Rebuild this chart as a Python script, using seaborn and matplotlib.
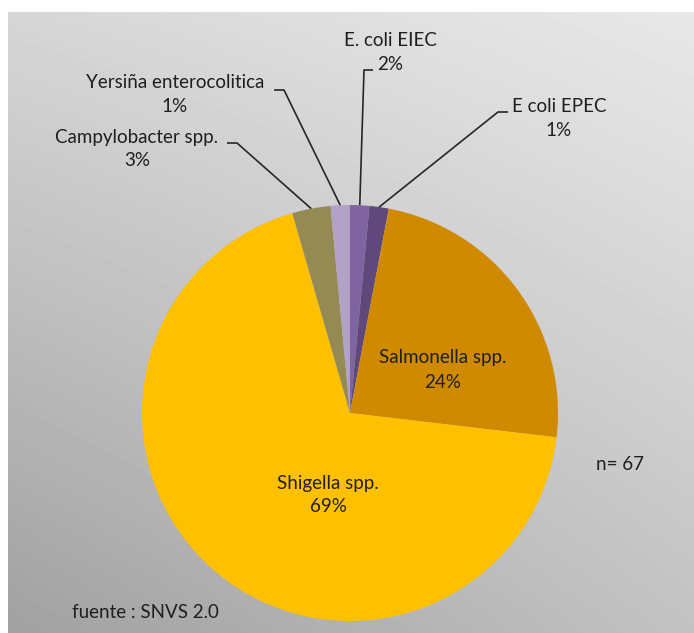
import numpy as np
import matplotlib
matplotlib.use('Agg')
import matplotlib.pyplot as plt
import seaborn as sns

# data (n = 67 isolates)
categories = ['E. coli EIEC', 'E coli EPEC', 'Salmonella spp.', 'Shigella spp.',
              'Campylobacter spp.', 'Yersiña enterocolitica']
counts = [1, 1, 16, 46, 2, 1]
pct_labels = ['2%', '1%', '24%', '69%', '3%', '1%']
colors = ['#8064A2', '#5F497A', '#D08A00', '#FFC000', '#948A54', '#B3A2C7']
n_total = 67
source = 'fuente : SNVS 2.0'

W, H = 694, 633

sns.set_style('white')
plt.rcParams['font.family'] = ['Lato', 'DejaVu Sans']

fig = plt.figure(figsize=(W / 100, H / 100), dpi=100)
ax = fig.add_axes([0, 0, 1, 1])

# gradient background (light top-right, dark bottom-left)
gx = np.linspace(0, 1, 200)
gy = np.linspace(0, 1, 200)
GX, GY = np.meshgrid(gx, gy)
tl, tr, bl, br = 0.84, 0.91, 0.63, 0.76
grad = (tl * (1 - GX) * (1 - GY) + tr * GX * (1 - GY)
        + bl * (1 - GX) * GY + br * GX * GY)
ax.imshow(grad, cmap='gray', vmin=0, vmax=1, extent=[8, W, 0, H - 12],
          aspect='auto', zorder=0, interpolation='bilinear')

cx, cy, r = 350, H - 413, 208
wedges, _ = ax.pie(counts, colors=colors, startangle=90, counterclock=False,
                   center=(cx, cy), radius=r, frame=True,
                   wedgeprops=dict(linewidth=0, zorder=1))

ax.set_xlim(0, W)
ax.set_ylim(0, H)
ax.set_aspect('auto')
ax.axis('off')

fs = 13.5
tcolor = '#1f1f1f'


def edge_point(w):
    ang = np.deg2rad((w.theta1 + w.theta2) / 2)
    return cx + r * np.cos(ang), cy + r * np.sin(ang)


# outside labels: (text center, elbow, line end) in pixels from the top
outside = {
    0: dict(text=(390, 53), elbow=(364, 70), end=(373, 70)),
    1: dict(text=(559, 118), elbow=(498, 112), end=(508, 112)),
    4: dict(text=(137, 149), elbow=(237, 143), end=(227, 143)),
    5: dict(text=(175, 95), elbow=(284, 90), end=(274, 90)),
}
for i, o in outside.items():
    ex, ey = edge_point(wedges[i])
    ax.plot([ex, o['elbow'][0], o['end'][0]],
            [ey, H - o['elbow'][1], H - o['end'][1]],
            color='#262626', lw=1.2, zorder=2, solid_capstyle='butt')
    ax.text(o['text'][0], H - o['text'][1], categories[i] + '\n' + pct_labels[i],
            ha='center', va='center', fontsize=fs, color=tcolor,
            linespacing=1.5, zorder=3)

# inside labels
inside = {2: (443, 370), 3: (328, 495)}
for i, (tx, ty) in inside.items():
    ax.text(tx, H - ty, categories[i] + '\n' + pct_labels[i],
            ha='center', va='center', fontsize=fs, color=tcolor,
            linespacing=1.5, zorder=3)

ax.text(620, H - 465, 'n= %d' % n_total, ha='center', va='center',
        fontsize=fs, color=tcolor)
ax.text(72, H - 613, source, ha='left', va='center',
        fontsize=fs, color=tcolor)

fig.savefig('out.png', dpi=100, facecolor='white')
